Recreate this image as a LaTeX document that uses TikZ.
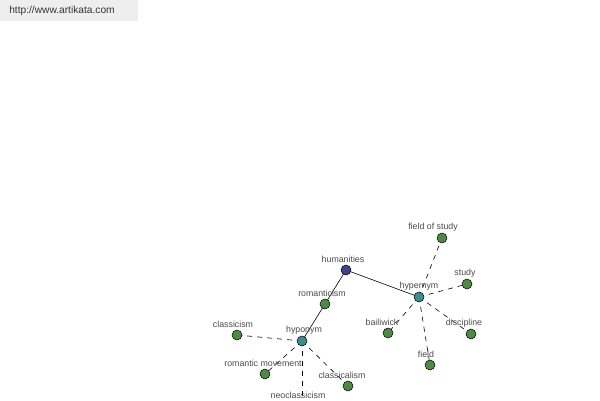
\documentclass[tikz,border=0pt]{standalone}
\usepackage{fontspec}
\setmainfont{Liberation Sans}
\usetikzlibrary{backgrounds}
\definecolor{leaf}{HTML}{4E8A44}
\definecolor{rootc}{HTML}{42428C}
\definecolor{relc}{HTML}{3F8C8C}
\definecolor{txt}{HTML}{4A4A4A}
\definecolor{hdr}{HTML}{EEEEEE}
\tikzset{
  dot/.style={circle,draw=black,line width=0.5pt,minimum size=10pt,inner sep=0pt,fill=leaf},
  rootdot/.style={dot,fill=rootc},
  reldot/.style={dot,fill=relc},
  lab/.style={text=txt,font=\fontsize{8.8}{10}\selectfont,inner sep=0pt},
  solidedge/.style={draw=black,line width=0.6pt},
  dashededge/.style={draw=black,line width=0.6pt,dash pattern=on 5pt off 5pt},
}
\begin{document}
\begin{tikzpicture}[x=1pt,y=-1pt]
\useasboundingbox (0,0) rectangle (600,400);
\fill[hdr] (0,0) rectangle (138,21);
\node[lab,text=black!80,font=\fontsize{10.2}{12}\selectfont] (url) at (62,11) {http://www.artikata.com};

\node[rootdot] (humanities) at (346,270) {};
\node[dot] (romanticism) at (325,304) {};
\node[reldot] (hyponym) at (302,341) {};
\node[dot] (classicism) at (237,335) {};
\node[dot] (romanticmovement) at (265,374) {};
\coordinate (neoclassicism) at (302,408);
\node[dot] (classicalism) at (348,386) {};
\node[reldot] (hypernym) at (419,297) {};
\node[dot] (fieldofstudy) at (442,238) {};
\node[dot] (study) at (467,284) {};
\node[dot] (bailiwick) at (388,333) {};
\node[dot] (discipline) at (471,334) {};
\node[dot] (field) at (430,365) {};

\node[lab] (lhumanities) at (343,259) {humanities};
\node[lab] (lromanticism) at (322,293) {romanticism};
\node[lab] (lhyponym) at (304,330) {hyponym};
\node[lab] (lclassicism) at (233,324) {classicism};
\node[lab] (lromanticmovement) at (263,363) {romantic movement};
\node[lab] (lneoclassicism) at (298,395) {neoclassicism};
\node[lab] (lclassicalism) at (342,375) {classicalism};
\node[lab] (lhypernym) at (419,286) {hypernym};
\node[lab] (lfieldofstudy) at (433,227) {field of study};
\node[lab] (lstudy) at (465,273) {study};
\node[lab] (lbailiwick) at (382,322) {bailiwick};
\node[lab] (ldiscipline) at (464,323) {discipline};
\node[lab] (lfield) at (426,354) {field};

\begin{scope}[on background layer]
\draw[solidedge] (humanities.center) -- (romanticism.center);
\draw[solidedge] (romanticism.center) -- (hyponym.center);
\draw[solidedge] (humanities.center) -- (hypernym.center);
\draw[dashededge] (hyponym.center) -- (classicism.center);
\draw[dashededge] (hyponym.center) -- (romanticmovement.center);
\draw[dashededge] (hyponym.center) -- (neoclassicism);
\draw[dashededge] (hyponym.center) -- (classicalism.center);
\draw[dashededge] (hypernym.center) -- (fieldofstudy.center);
\draw[dashededge] (hypernym.center) -- (study.center);
\draw[dashededge] (hypernym.center) -- (bailiwick.center);
\draw[dashededge] (hypernym.center) -- (discipline.center);
\draw[dashededge] (hypernym.center) -- (field.center);
\end{scope}
\end{tikzpicture}
\end{document}
